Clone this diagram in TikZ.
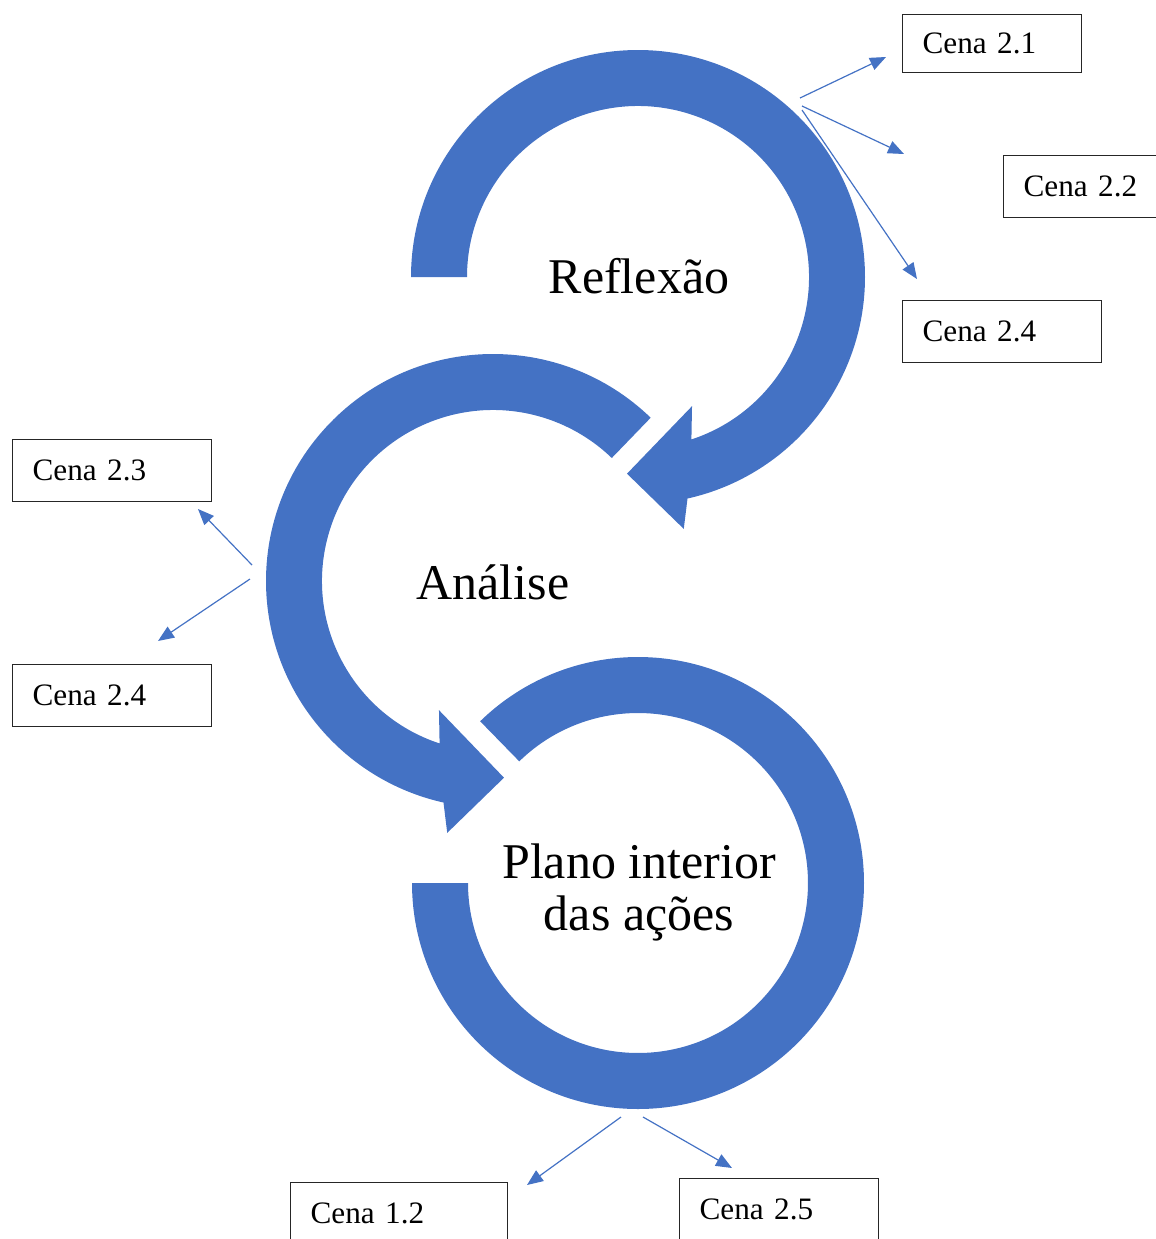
\documentclass[tikz,border=0pt]{standalone}
\usepackage{fontspec}
\setmainfont{Liberation Serif}
\usepackage{xcolor}
\usetikzlibrary{arrows.meta,positioning,calc}
\definecolor{ringblue}{HTML}{4472C4}

\begin{document}
\begin{tikzpicture}[x=0.5pt,y=0.5pt,>=Latex]
  \tikzstyle{ring}=[fill=ringblue,draw=none]
  \tikzstyle{ringtext}=[align=center,font=\fontsize{25}{26}\selectfont]
  \tikzstyle{cena}=[draw=black!85,line width=0.65pt,anchor=north west,inner xsep=10pt,inner ysep=0pt,minimum height=31pt,text width=79.5pt,align=left,font=\fontsize{15.6}{18}\selectfont]
  \tikzstyle{link}=[ringblue,line width=0.6pt,-{Triangle[length=8pt,width=6.5pt]}]
  \useasboundingbox (0,0) rectangle (1156,-1239);

  % the three rings
  \coordinate (ctop) at (638,-277);
  \coordinate (cmid) at (493,-581);
  \coordinate (cbot) at (638,-883);
  \fill[ring] ($(ctop)+(180:227)$) arc[start angle=180,end angle=-77.4,radius=227]
    -- ($(ctop)+(-79.7:256)$) -- ($(ctop)+(-93.2:197)$) -- ($(ctop)+(-67.3:140)$)
    -- ($(ctop)+(-71.8:171)$) arc[start angle=-71.8,end angle=180,radius=171] -- cycle;
  \fill[ring] ($(cmid)+(46:227)$) arc[start angle=46,end angle=257.4,radius=227]
    -- ($(cmid)+(259.7:256)$) -- ($(cmid)+(273.2:197)$) -- ($(cmid)+(247.3:140)$)
    -- ($(cmid)+(251.8:171)$) arc[start angle=251.8,end angle=46,radius=171] -- cycle;
  \fill[ring] ($(cbot)+(180:226)$) arc[start angle=180,end angle=494.3,radius=226]
    -- ($(cbot)+(494.3:170)$) arc[start angle=494.3,end angle=180,radius=170] -- cycle;

  \node[ringtext] (reflexao) at (639,-276) {Reflexão};
  \node[ringtext] (analise) at (493,-582) {Análise};
  \node[ringtext] (plano) at (639,-892) {Plano interior\\das ações};

  % scenes
  \node[cena,minimum height=29pt,text width=69.5pt] (c21) at (902,-14) {Cena 2.1};
  \node[cena] (c22) at (1003,-155) {Cena 2.2};
  \node[cena] (c24r) at (902,-300) {Cena 2.4};
  \node[cena] (c23) at (12,-439) {Cena 2.3};
  \node[cena] (c24l) at (12,-664) {Cena 2.4};
  \node[cena,text width=88.5pt] (c12) at (290,-1182) {Cena 1.2};
  \node[cena] (c25) at (679,-1178) {Cena 2.5};

  % pointers
  \coordinate (f21) at (800,-98);   \coordinate (t21) at (886,-57);
  \coordinate (f22) at (802,-106);  \coordinate (t22) at (904,-154);
  \coordinate (f24r) at (802,-110); \coordinate (t24r) at (917,-279);
  \coordinate (f23) at (252,-565);  \coordinate (t23) at (198,-509);
  \coordinate (f24l) at (250,-579); \coordinate (t24l) at (158,-641);
  \coordinate (f12) at (621,-1117); \coordinate (t12) at (527,-1185);
  \coordinate (f25) at (643,-1117); \coordinate (t25) at (732,-1168);
  \foreach \a/\b in {f21/t21,f22/t22,f24r/t24r,f23/t23,f24l/t24l,f12/t12,f25/t25}
    \draw[link] (\a) -- (\b);
\end{tikzpicture}
\end{document}
